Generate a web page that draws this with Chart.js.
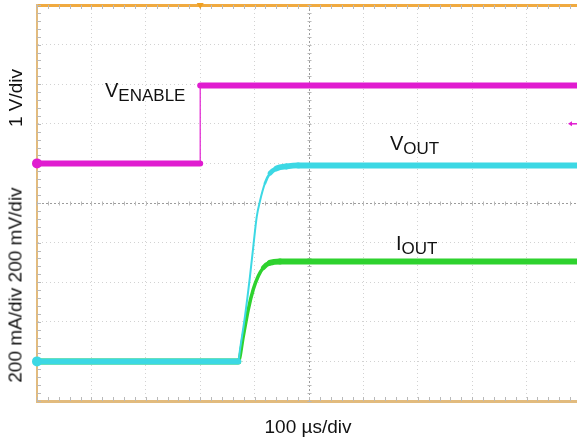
<!DOCTYPE html>
<html>
<head>
<meta charset="utf-8">
<script src="https://cdn.jsdelivr.net/npm/chart.js@4.4.1/dist/chart.umd.min.js"></script>
<style>
  html, body { margin:0; padding:0; background:#fff; overflow:hidden; }
  #wrap { position:relative; width:590px; height:440px; }
  .lbl { position:absolute; font-family:"Liberation Sans", Arial, sans-serif; color:#111; line-height:1; white-space:nowrap; }
  .trace { font-size:20px; }
  .trace span { font-size:17px; position:relative; top:4px; }
  .axis { font-size:19px; transform:translate(-50%,-50%); }
  .axis.rot { transform:translate(-50%,-50%) rotate(-90deg); }
</style>
</head>
<body>
<div id="wrap">
  <canvas id="scope" width="590" height="440"></canvas>
  <div class="lbl trace" style="left:105px;top:80px">V<span>ENABLE</span></div>
  <div class="lbl trace" style="left:390px;top:133px">V<span>OUT</span></div>
  <div class="lbl trace" style="left:396px;top:233px">I<span>OUT</span></div>
  <div class="lbl axis rot" style="left:15px;top:98px">1 V/div</div>
  <div class="lbl axis rot" style="left:15px;top:285px">200 mA/div 200 mV/div</div>
  <div class="lbl axis" style="left:308px;top:426px">100 µs/div</div>
</div>
<script>
// screen: 10 x 10 divisions, 100 us/div, trigger 2 div left of centre
const timeRangeUs = [-500, 500]
const enableRangeV = [-6, 4]       // 1 V/div, ground 6 div up
const voutRangeMv = [-200, 1800]   // 200 mV/div, ground 1 div up
const ioutRangeMa = [-200, 1800]   // 200 mA/div, ground 1 div up

const enableTimeUs = [-500, -200, -200, 500]
const enableVolts  = [0, 0, 1.97, 1.97]

const voutTimeUs = [-500, -130, -126.8, -117.6, -108.5, -102.4, -96.1, -90.1, -80.9, -71.7, -59.4, -41, -20, 500]
const voutMv     = [0, 0, 60, 230, 430, 580, 730, 810, 900, 950, 975, 985, 990, 990]

const ioutTimeUs = [-500, -130, -120.8, -111.6, -102.4, -93.2, -84, -71.7, -53.3, -35, 500]
const ioutMa     = [0, 0, 128, 263, 364, 431, 473, 498, 505, 505, 505]

const triggerTimeUs = -200
const triggerLevelV = 1.0

const VISIBLE_W = 577

function pairs(xs, ys){ return xs.map((x,i)=>({x:x, y:ys[i]})) }

// the noisy scope trace looks thick where flat and thin on steep edges
function edgeWidth(thin, thick){
  return {
    borderWidth: c => {
      const dx = Math.abs(c.p1.x - c.p0.x), dy = Math.abs(c.p1.y - c.p0.y)
      const r = dx ? dy/dx : 99
      return Math.max(thin, thick/Math.sqrt(1 + r*r))
    }
  }
}

function trace(label, data, axis, color, thin, marker){
  return {
    label: label,
    data: data,
    yAxisID: axis,
    borderColor: color,
    backgroundColor: color,
    borderWidth: 6,
    borderCapStyle: 'round',
    borderJoinStyle: 'round',
    pointRadius: c => (marker && c.dataIndex === 0) ? 5 : 0,
    pointBorderWidth: 0,
    clip: false,
    segment: edgeWidth(thin, 6)
  }
}

const graticule = {
  id: 'graticule',
  beforeDatasetsDraw(chart){
    const {ctx, chartArea: a, scales: {x, yEn}} = chart
    const xMid = Math.round(x.getPixelForValue(0)) + 0.5
    const yMid = Math.round(yEn.getPixelForValue(-1)) + 0.5
    ctx.save()
    ctx.strokeStyle = '#b9b9b9'
    ctx.lineWidth = 1
    ctx.beginPath()
    for(let i = 0; i <= 50; i++){
      const px = Math.round(x.getPixelForValue(timeRangeUs[0] + i*20)) + 0.5
      ctx.moveTo(px, a.top); ctx.lineTo(px, a.top + 4)
      ctx.moveTo(px, a.bottom); ctx.lineTo(px, a.bottom - 4)
      ctx.moveTo(px, yMid - 2); ctx.lineTo(px, yMid + 2)
    }
    for(let i = 0; i <= 50; i++){
      const py = Math.round(yEn.getPixelForValue(enableRangeV[0] + i*0.2)) + 0.5
      ctx.moveTo(a.left, py); ctx.lineTo(a.left + 4, py)
      ctx.moveTo(xMid - 2, py); ctx.lineTo(xMid + 2, py)
    }
    ctx.stroke()
    ctx.restore()
  },
  afterDatasetsDraw(chart){
    const {ctx, chartArea: a, scales: {x, yEn}} = chart
    // trigger position
    const tx = x.getPixelForValue(triggerTimeUs)
    ctx.save()
    ctx.fillStyle = '#f0a020'
    ctx.beginPath()
    ctx.moveTo(tx - 3.5, a.top - 2); ctx.lineTo(tx + 3.5, a.top - 2); ctx.lineTo(tx, a.top + 4)
    ctx.closePath(); ctx.fill()
    // trigger level
    const ty = yEn.getPixelForValue(triggerLevelV)
    ctx.strokeStyle = '#e01cd0'
    ctx.fillStyle = '#e01cd0'
    ctx.lineWidth = 1.5
    ctx.beginPath(); ctx.moveTo(VISIBLE_W - 6, ty); ctx.lineTo(VISIBLE_W, ty); ctx.stroke()
    ctx.beginPath()
    ctx.moveTo(VISIBLE_W - 9, ty); ctx.lineTo(VISIBLE_W - 5, ty - 2.5); ctx.lineTo(VISIBLE_W - 5, ty + 2.5)
    ctx.closePath(); ctx.fill()
    ctx.restore()
  }
}

const centreGrid = (isCentre) => ({
  color: c => isCentre(c.tick.value) ? '#9c9c9c' : '#d2d2d2',
  lineWidth: 1,
  drawTicks: false
})

new Chart(document.getElementById('scope'), {
  type: 'line',
  data: {
    datasets: [
      trace('VENABLE', pairs(enableTimeUs, enableVolts), 'yEn', '#e01cd0', 1.2, true),
      Object.assign(trace('VOUT', pairs(voutTimeUs, voutMv), 'yOut', '#3cd8e4', 2, true), {cubicInterpolationMode: 'monotone'}),
      Object.assign(trace('IOUT', pairs(ioutTimeUs, ioutMa), 'yI', '#2ed22e', 3.5, false), {cubicInterpolationMode: 'monotone'})
    ]
  },
  options: {
    responsive: false,
    animation: false,
    events: [],
    layout: { padding: {left: 37, top: 5, right: 9, bottom: 39} },
    plugins: { legend: {display: false}, tooltip: {enabled: false} },
    scales: {
      x: {
        type: 'linear', position: 'bottom',
        min: timeRangeUs[0], max: timeRangeUs[1],
        ticks: {display: false, stepSize: 100},
        grid: centreGrid(v => v === 0),
        border: {display: true, color: '#e2bb7e', width: 3, dash: c => c.tick && c.tick.value === 0 ? [2, 2] : [1, 3]}
      },
      xTop: {
        type: 'linear', position: 'top',
        min: timeRangeUs[0], max: timeRangeUs[1],
        ticks: {display: false},
        grid: {display: false, drawTicks: false},
        border: {display: true, color: '#f0aa40', width: 3}
      },
      yEn: {
        type: 'linear', position: 'left',
        min: enableRangeV[0], max: enableRangeV[1],
        ticks: {display: false, stepSize: 1},
        grid: centreGrid(v => v === -1),
        border: {display: true, color: '#e2bb7e', width: 2, dash: c => c.tick && c.tick.value === -1 ? [2, 2] : [1, 3]}
      },
      yOut: { type: 'linear', display: false, min: voutRangeMv[0], max: voutRangeMv[1] },
      yI: { type: 'linear', display: false, min: ioutRangeMa[0], max: ioutRangeMa[1] }
    }
  },
  plugins: [graticule]
})
</script>
</body>
</html>
